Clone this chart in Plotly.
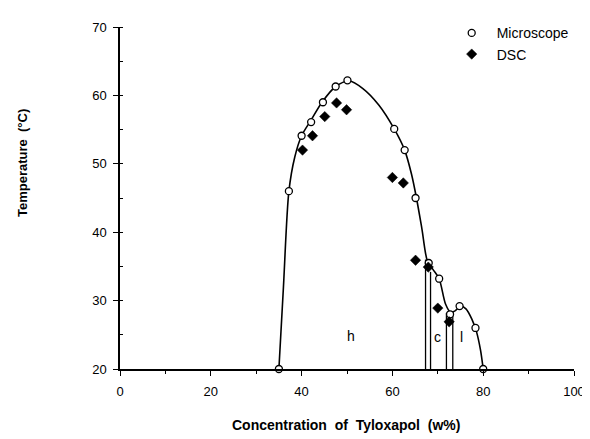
import plotly.graph_objects as go

# Microscope data (open circles)
micro_x = [35.0, 37.2, 40.0, 42.1, 44.7, 47.5, 50.1, 60.4, 62.7, 65.1, 68.0, 70.3, 72.7, 74.8, 78.3, 80.0]
micro_y = [20.0, 46.0, 54.1, 56.1, 59.0, 61.3, 62.2, 55.1, 52.0, 45.0, 35.5, 33.2, 28.0, 29.2, 26.0, 20.0]

# DSC data (filled diamonds)
dsc_x = [40.2, 42.4, 45.1, 47.7, 49.9, 60.0, 62.4, 65.1, 67.9, 70.0, 72.5]
dsc_y = [52.0, 54.1, 56.9, 58.9, 57.9, 48.0, 47.2, 35.9, 34.9, 28.9, 26.9]

# Phase boundary curve
bound_x = [35.0, 36.0, 37.2, 38.5, 40.0, 42.0, 44.5, 47.5, 50.5, 53.5, 57.0, 60.4, 62.7, 64.2, 65.3, 66.5, 67.7, 69.0, 70.3, 71.7, 72.8, 73.8, 75.0, 76.2, 77.5, 78.5, 79.4, 80.0]
bound_y = [20.0, 32.0, 46.0, 51.0, 54.1, 56.3, 59.0, 61.3, 62.1, 61.0, 58.6, 55.1, 52.0, 48.5, 45.0, 40.5, 35.8, 34.5, 33.2, 29.5, 28.3, 28.5, 29.2, 28.8, 27.3, 25.5, 22.8, 20.0]

# Vertical phase separation lines
vline_x = [67.3, 68.4, 71.9, 73.3]
vline_top = [36.0, 34.2, 28.2, 28.4]

# Region labels
region_text = ["h", "c", "l"]
region_x = [50.8, 70.0, 75.3]
region_y = [24.8, 24.7, 24.7]

x_ticks = [0, 20, 40, 60, 80, 100]
y_ticks = [20, 30, 40, 50, 60, 70]

FONT = "Liberation Sans, Arial"

fig = go.Figure()

for vx, vt in zip(vline_x, vline_top):
    fig.add_trace(go.Scatter(x=[vx, vx], y=[20, vt], mode="lines",
                             line=dict(color="black", width=1.3),
                             showlegend=False, hoverinfo="skip"))

fig.add_trace(go.Scatter(x=bound_x, y=bound_y, mode="lines",
                         line=dict(color="black", width=1.6, shape="spline", smoothing=0.8),
                         showlegend=False, hoverinfo="skip", cliponaxis=False))

fig.add_trace(go.Scatter(x=micro_x, y=micro_y, mode="markers", name="Microscope",
                         marker=dict(symbol="circle", size=7, color="white",
                                     line=dict(color="black", width=1.3)),
                         cliponaxis=False))

fig.add_trace(go.Scatter(x=dsc_x, y=dsc_y, mode="markers", name="DSC",
                         marker=dict(symbol="diamond", size=8, color="black",
                                     line=dict(color="black", width=0.5)),
                         cliponaxis=False))

for t, rx, ry in zip(region_text, region_x, region_y):
    fig.add_annotation(x=rx, y=ry, text=t, showarrow=False,
                       font=dict(family=FONT, size=14, color="black"))

# Axis titles as annotations
fig.add_annotation(xref="paper", yref="paper", x=(346 - 120) / 454, y=(369 - 427) / 352,
                   text="Concentration\u00a0\u00a0of\u00a0\u00a0Tyloxapol\u00a0\u00a0(w%)",
                   showarrow=False, xanchor="center", yanchor="middle",
                   font=dict(family=FONT, size=14, color="black", weight="bold"))
fig.add_annotation(xref="paper", yref="paper", x=(22 - 120) / 454, y=(369 - 157) / 352,
                   text="Temperature\u00a0\u00a0(°C)", textangle=-90,
                   showarrow=False, xanchor="center", yanchor="middle",
                   font=dict(family=FONT, size=13, color="black", weight="bold"))

fig.update_xaxes(range=[0, 100], tickvals=x_ticks, ticks="outside", ticklen=5, tickwidth=1.2,
                 tickcolor="black", showline=True, linecolor="black", linewidth=1.5,
                 showgrid=False, zeroline=False, ticklabelstandoff=5,
                 minor=dict(dtick=10, ticks="outside", ticklen=3, tickcolor="black", tickwidth=1),
                 tickfont=dict(family=FONT, size=13, color="black"))
fig.update_yaxes(range=[20, 70], tickvals=y_ticks, ticks="outside", ticklen=5, tickwidth=1.2,
                 tickcolor="black", showline=True, linecolor="black", linewidth=1.5,
                 showgrid=False, zeroline=False, ticklabelstandoff=4,
                 minor=dict(dtick=5, ticks="inside", ticklen=3, tickcolor="black", tickwidth=1),
                 tickfont=dict(family=FONT, size=13, color="black"))

fig.update_layout(
    width=590, height=439,
    margin=dict(l=112, r=24, t=9, b=78),
    paper_bgcolor="white", plot_bgcolor="white",
    showlegend=True,
    legend=dict(x=(446.7 - 120) / 454, y=(369 - 7) / 352, xanchor="left", yanchor="top",
                bgcolor="rgba(0,0,0,0)", borderwidth=0,
                font=dict(family=FONT, size=14, color="black"),
                itemwidth=40, tracegroupgap=0),
)

fig.write_html("out.html")
